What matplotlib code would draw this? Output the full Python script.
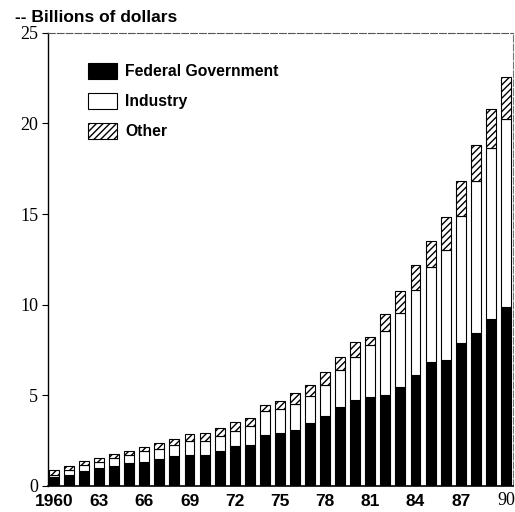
import matplotlib
matplotlib.use('Agg')
import matplotlib.pyplot as plt
import matplotlib.transforms as mtransforms
import numpy as np

# data (billions of dollars)
years = list(range(1960, 1991))
federal = [0.48, 0.61, 0.81, 0.96, 1.10, 1.25, 1.34, 1.49, 1.64, 1.71, 1.71,
           1.93, 2.19, 2.26, 2.81, 2.90, 3.10, 3.45, 3.88, 4.38, 4.76,
           4.91, 5.02, 5.44, 6.13, 6.82, 6.95, 7.90, 8.45, 9.22, 9.86]
fed_plus_ind = [0.62, 0.88, 1.18, 1.34, 1.52, 1.71, 1.90, 2.04, 2.23, 2.45, 2.45,
                2.74, 3.05, 3.28, 4.15, 4.25, 4.52, 4.98, 5.54, 6.40, 7.10,
                7.78, 8.54, 9.53, 10.80, 12.10, 13.03, 14.90, 16.80, 18.65, 20.23]
total = [0.88, 1.10, 1.38, 1.56, 1.75, 1.95, 2.15, 2.39, 2.61, 2.85, 2.91,
         3.20, 3.54, 3.76, 4.49, 4.71, 5.11, 5.59, 6.31, 7.10, 7.93,
         8.24, 9.50, 10.78, 12.18, 13.50, 14.83, 16.80, 18.83, 20.77, 22.57]
industry = [b - a for a, b in zip(federal, fed_plus_ind)]
other = [c - b for b, c in zip(fed_plus_ind, total)]

xtick_pos = [1960, 1963, 1966, 1969, 1972, 1975, 1978, 1981, 1984, 1987, 1990]
xtick_lab = ['1960', '63', '66', '69', '72', '75', '78', '81', '84', '87', '90']

plt.rcParams['hatch.linewidth'] = 1.0
fig = plt.figure(figsize=(5.15, 5.12), dpi=100)
ax = fig.add_axes([0.093, 0.051, 0.903, 0.885])

w = 0.66
ax.bar(years, federal, w, color='black', edgecolor='black', lw=0.8, label='Federal Government')
ax.bar(years, industry, w, bottom=federal, color='white', edgecolor='black', lw=0.8, label='Industry')
ax.bar(years, other, w, bottom=fed_plus_ind, color='white', edgecolor='black', lw=0.8,
       hatch='/////', label='Other')

ax.set_xlim(1959.6, 1990.47)
ax.set_ylim(0, 25)
ax.set_yticks([0, 5, 10, 15, 20, 25])
ax.set_yticklabels(['0', '5', '10', '15', '20', '25'], fontfamily='Liberation Serif', fontsize=13)
ax.tick_params(axis='y', length=4, width=0.8, direction='out', pad=3)
ax.set_xticks(xtick_pos)
ax.set_xticklabels(xtick_lab, fontfamily='Liberation Sans', fontweight='bold', fontsize=12.5)
ax.tick_params(axis='x', length=0, pad=6)
# "90" is set in a plain serif face and sits a bit higher
lab90 = ax.get_xticklabels()[-1]
lab90.set_fontfamily('Liberation Serif')
lab90.set_fontweight('normal')
lab90.set_fontsize(13)
lab90.set_verticalalignment('center')
lab90.set_transform(lab90.get_transform() +
                    mtransforms.ScaledTranslation(0, -6 / 100, fig.dpi_scale_trans))

ax.spines['top'].set_linestyle((0, (6, 2)))
ax.spines['top'].set_color('#555555')
ax.spines['right'].set_linestyle((0, (6, 2)))
ax.spines['right'].set_color('#777777')
ax.spines['left'].set_linewidth(1.0)
ax.spines['bottom'].set_linewidth(1.2)

fig.text(0.03, 0.952, '-- Billions of dollars', fontfamily='Liberation Sans',
         fontweight='bold', fontsize=12.5, va='bottom', ha='left')

leg = ax.legend(loc='upper left', bbox_to_anchor=(0.055, 0.965), frameon=False,
                prop={'family': 'Liberation Sans', 'weight': 'bold', 'size': 11.3},
                handlelength=1.9, handleheight=1.25, labelspacing=0.85, handletextpad=0.5)

plt.savefig('out.png', dpi=100)
